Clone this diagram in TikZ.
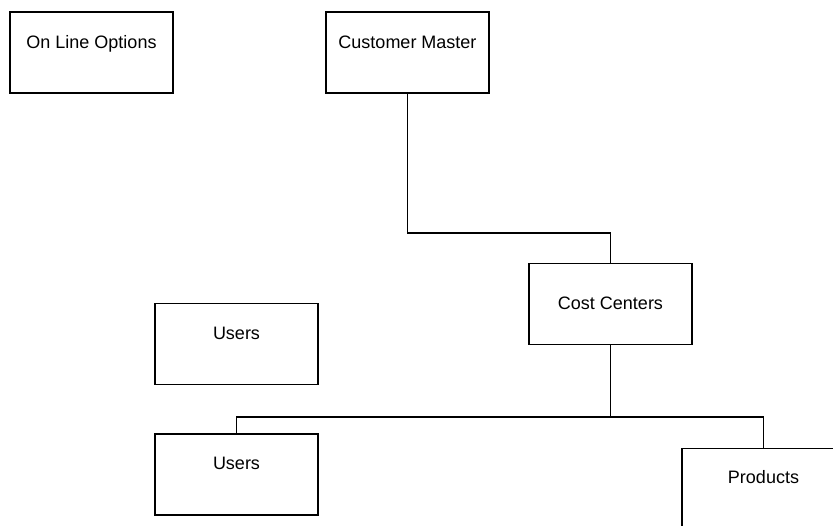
\documentclass[tikz,border=0pt]{standalone}
\usepackage{fontspec}
\setmainfont{Liberation Sans}
\begin{document}
\begin{tikzpicture}[x=1pt,y=-1pt,
  box/.style={draw=black,line width=1.2pt,rectangle,inner sep=0pt,minimum width=163pt,minimum height=81pt},
  lbl/.style={anchor=base,inner sep=0pt,font=\fontsize{18}{21}\selectfont},
  conn/.style={draw=black,line width=1.2pt}]
\useasboundingbox (0,0) rectangle (833,525);
\clip (0,0) rectangle (833,525);
\node[box] (olo) at (91.5,52.5) {};
\node[box] (cm) at (407.5,52.5) {};
\node[box] (cc) at (610.5,304) {};
\node[box] (u1) at (236.5,344) {};
\node[box] (u2) at (236.5,474.5) {};
\node[box] (pr) at (763.5,489) {};
\node[lbl] (tolo) at (91.5,48) {On Line Options};
\node[lbl] (tcm) at (407.5,48) {Customer Master};
\node[lbl] (tcc) at (610.5,309) {Cost Centers};
\node[lbl] (tu1) at (236.5,339) {Users};
\node[lbl] (tu2) at (236.5,469) {Users};
\node[lbl] (tpr) at (763.5,483) {Products};
\coordinate (bus1) at (0,233);
\coordinate (bus2) at (0,417);
\draw[conn] (cm.south) -- (cm.south |- bus1) -| (cc.north);
\draw[conn] (cc.south) -- (cc.south |- bus2);
\draw[conn] (u2.north) -- (u2.north |- bus2) -- (pr.north |- bus2) -- (pr.north);
\end{tikzpicture}
\end{document}
